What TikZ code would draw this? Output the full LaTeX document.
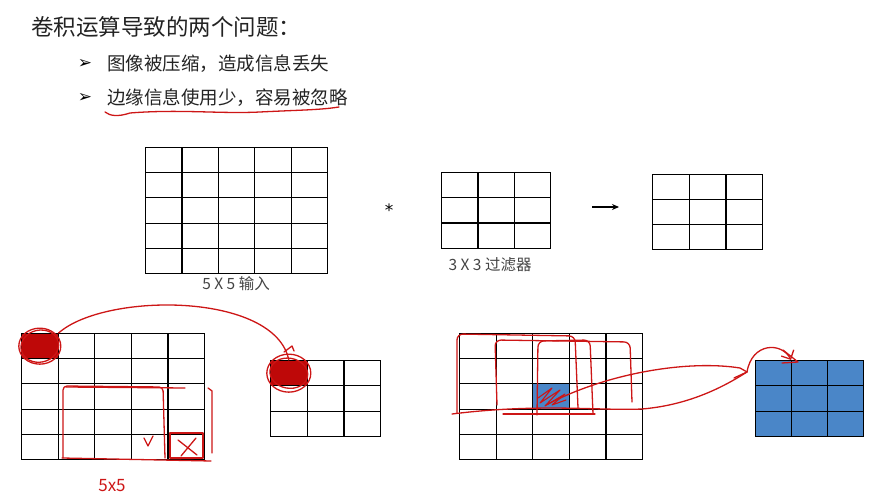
\documentclass[tikz,border=0pt]{standalone}
\usepackage{fontspec}
\usetikzlibrary{arrows.meta}
\setmainfont{Noto Sans CJK SC}
\newfontfamily\dejavu{DejaVu Sans}
\definecolor{penred}{RGB}{205,22,22}
\definecolor{redfill}{RGB}{190,8,8}
\definecolor{cellblue}{RGB}{74,134,200}
\definecolor{inkgrey}{RGB}{35,35,35}

\begin{document}
\begin{tikzpicture}[x=1pt, y=-1pt, thick,
    cell/.style = {draw, line width=1.1pt, minimum width=36.5pt, minimum height=25.2pt, inner sep=0pt, anchor=north west},
    ann/.style = {draw=penred, line width=1.3pt, line cap=round, line join=round},
    lbl/.style = {text=inkgrey!85, font=\fontsize{15.5}{18}\selectfont, inner sep=0pt},
    item/.style = {text=inkgrey, font=\fontsize{18.5}{22}\selectfont, inner sep=0pt, anchor=west}]
  \useasboundingbox (0,0) rectangle (878,502);

  % heading and bullets
  \node[text=inkgrey, font=\fontsize{22.5}{26}\selectfont, inner sep=0pt, anchor=west] (title) at (31,27) {卷积运算导致的两个问题：};
  \node[font=\dejavu\fontsize{17}{19}\selectfont] (b1) at (85,64) {➢};
  \node[item] (t1) at (107,64) {图像被压缩，造成信息丢失};
  \node[font=\dejavu\fontsize{17}{19}\selectfont] (b2) at (85,98) {➢};
  \node[item] (t2) at (107,98) {边缘信息使用少，容易被忽略};
  \draw[ann] (105,112) .. controls (110,116) and (118,117) .. (130,113) .. controls (180,109) and (220,114) .. (260,112) .. controls (300,110) and (320,110) .. (339,107);

  % top row: input * filter -> output
  \foreach \r in {1,...,5}
    \foreach \c in {1,...,5}
      \node[cell] (in-\r-\c) at ({145+(\c-1)*36.4}, {147+(\r-1)*25.2}) {};
  \foreach \r in {1,...,3}
    \foreach \c in {1,...,3}
      \node[cell] (flt-\r-\c) at ({441+(\c-1)*36.4}, {172+(\r-1)*25.3}) {};
  \foreach \r in {1,...,3}
    \foreach \c in {1,...,3}
      \node[cell] (out-\r-\c) at ({652+(\c-1)*36.7}, {174+(\r-1)*25}) {};
  \node[lbl] (inlbl) at (236,284) {5 X 5 输入};
  \node[lbl] (fltlbl) at (490,265) {3 X 3 过滤器};
  \node[font=\dejavu\fontsize{17}{17}\selectfont] (star) at (389,210) {*};
  \coordinate (arrS) at (592,207);
  \coordinate (arrE) at (619,207);
  \draw[-{Stealth[length=7pt,width=6pt]}, line width=1.3pt] (arrS) -- (arrE);

  % bottom left: corner pixel used once
  \foreach \r in {1,...,5}
    \foreach \c in {1,...,5}
      \node[cell] (A-\r-\c) at ({21+(\c-1)*36.6}, {333+(\r-1)*25.2}) {};
  \foreach \r in {1,...,3}
    \foreach \c in {1,...,3}
      \node[cell] (B-\r-\c) at ({270+(\c-1)*36.7}, {360+(\r-1)*25.3}) {};
  \node[cell, fill=redfill] (Ared) at (A-1-1.north west) {};
  \node[cell, fill=redfill] (Bred) at (B-1-1.north west) {};
  \draw[ann] (Ared.center) ellipse (21 and 18);
  \draw[ann, rotate around={12:(Ared.center)}] (Ared.center) ellipse (19 and 16);
  \draw[ann] (Bred.center) ellipse (22 and 19);
  \draw[ann, rotate around={-10:(Bred.center)}] (Bred.center) ellipse (19 and 15);
  \draw[ann] (Ared.north east) .. controls (105,292) and (275,292) .. (Bred.north);
  \draw[ann] (284,352) -- (292,346) -- (294,351);
  \draw[ann, rounded corners=4pt] (63,458) -- (63,386) -- (163,387) -- (165,458);
  \draw[ann] (66,387) -- (185,388);
  \draw[ann] (208,388) -- (212,391) -- (212,453);
  \draw[ann] (62,458) -- (211,461);
  \draw[ann] (170,433) rectangle (203,458);
  \draw[ann] (178,440) -- (197,455) (196,438) -- (181,456);
  \draw[ann] (144,438) -- (148,446) -- (153,436);
  \node[text=penred, font=\fontsize{17}{17}\selectfont] (note) at (112,486) {5x5};

  % bottom right: centre pixel used many times
  \foreach \r in {1,...,5}
    \foreach \c in {1,...,5}
      \node[cell] (C-\r-\c) at ({459+(\c-1)*36.6}, {333+(\r-1)*25.2}) {};
  \node[cell, fill=cellblue] (Cmid) at (C-3-3.north west) {};
  \foreach \r in {1,...,3}
    \foreach \c in {1,...,3}
      \node[cell, fill=cellblue, minimum width=36pt, minimum height=25.3pt] (D-\r-\c) at ({755+(\c-1)*36}, {360+(\r-1)*25.3}) {};
  \draw[ann, line width=1.1pt] (538,398) -- (552,388) -- (540,403) -- (560,390) -- (545,406) -- (565,394) -- (552,405) -- (566,400);
  \draw[ann, rounded corners=6pt] (457,413) -- (457,334) -- (575,336) -- (578,408);
  \draw[ann, rounded corners=6pt] (497,405) -- (495,340) -- (630,342) -- (632,402);
  \draw[ann, rounded corners=6pt] (537,415) -- (538,341) -- (590,340) -- (593,414);
  \draw[ann] (503,414) -- (595,414);
  \draw[ann] (452,414) .. controls (540,403) and (600,411) .. (642,409) .. controls (690,405) and (725,386) .. (747,372);
  \draw[ann] (548,404) .. controls (610,372) and (690,360) .. (740,368) -- (747,372) -- (734,378);
  \draw[ann, -{Straight Barb[length=7pt]}] (747,372) .. controls (752,342) and (782,342) .. (D-1-2.north west);
  \draw[ann] (783,350) -- (798,362) -- (782,363);
\end{tikzpicture}
\end{document}
